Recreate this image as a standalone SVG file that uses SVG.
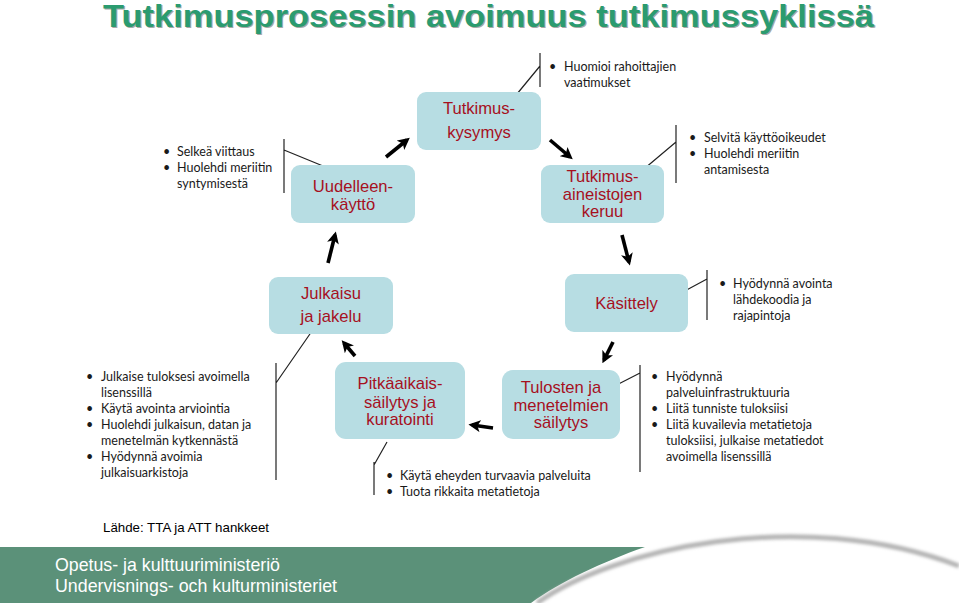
<svg xmlns="http://www.w3.org/2000/svg" width="959" height="603" viewBox="0 0 959 603">
<style>
.node rect{fill:#B7DDE3;}
.node text{font-family:"Liberation Sans",Arial,sans-serif;font-size:16.6px;fill:#A6101E;text-anchor:middle;}
.bl{font-family:Lato,"Open Sans",sans-serif;font-size:12.5px;fill:#1a1a1a;}
.br{stroke:#222;stroke-width:1.2;fill:none;}
.arr{stroke:#000;stroke-width:3.6;fill:none;stroke-linecap:butt;marker-end:url(#ah);}
.src{font-family:"Liberation Sans",Arial,sans-serif;font-size:13.3px;fill:#000;}
.foot{font-family:"Liberation Sans",Arial,sans-serif;font-size:18.5px;fill:#fff;}
</style>
<defs>
<marker id="ah" viewBox="0 0 10 10" refX="7" refY="5" markerWidth="12" markerHeight="12" markerUnits="userSpaceOnUse" orient="auto">
<path d="M0,0 L10,5 L0,10 L2.5,5 Z" fill="#000"/>
</marker>
<filter id="blur" x="-10%" y="-50%" width="120%" height="200%"><feGaussianBlur stdDeviation="1.6"/></filter>
</defs>
<rect width="959" height="603" fill="#fff"/>

<g id="title">
<text x="104.2" y="28.2" font-family="Liberation Sans,Arial,sans-serif" font-weight="bold" font-size="30.5" fill="#a8a8a8" textLength="771" lengthAdjust="spacingAndGlyphs">Tutkimusprosessin avoimuus tutkimussyklissä</text>
<text x="103" y="27" font-family="Liberation Sans,Arial,sans-serif" font-weight="bold" font-size="30.5" fill="#2B9B6F" textLength="771" lengthAdjust="spacingAndGlyphs">Tutkimusprosessin avoimuus tutkimussyklissä</text>
</g>

<g id="connectors">
<path class="arr" d="M386,157 L407,140"/>
<path class="arr" d="M550,140 L570,157"/>
<path class="arr" d="M622,235 L629,262"/>
<path class="arr" d="M613,342 L604,360"/>
<path class="arr" d="M493,428 L472,425"/>
<path class="arr" d="M355,356 L344,343"/>
<path class="arr" d="M328,263 L335,235"/>
<path class="br" d="M284,139 V193 M284,150 L323,166"/>
<path class="br" d="M540,53 V87 M540,66 L512,100"/>
<path class="br" d="M676,125 V183 M676,142 L638,174"/>
<path class="br" d="M707,270 V320 M707,279 L668,300"/>
<path class="br" d="M276,363 V480 M312,331 L276,383"/>
<path class="br" d="M640,365 V472 M640,373 L597,395"/>
<path class="br" d="M374,462 V495 M387,442 L374,465"/>
</g>

<g id="node-tutkimuskysymys" class="node">
<rect x="417" y="92" width="124" height="58" rx="9"/>
<text x="479" y="114">Tutkimus-</text>
<text x="479" y="138">kysymys</text>
</g>
<g id="node-uudelleenkaytto" class="node">
<rect x="291" y="165" width="124" height="58" rx="9"/>
<text x="353" y="192">Uudelleen-</text>
<text x="353" y="209.5">käyttö</text>
</g>
<g id="node-keruu" class="node">
<rect x="541" y="165" width="123" height="58" rx="9"/>
<text x="602.5" y="182">Tutkimus-</text>
<text x="602.5" y="199.5">aineistojen</text>
<text x="602.5" y="217">keruu</text>
</g>
<g id="node-julkaisu" class="node">
<rect x="269" y="277" width="124" height="57" rx="9"/>
<text x="331" y="299">Julkaisu</text>
<text x="331" y="322">ja jakelu</text>
</g>
<g id="node-kasittely" class="node">
<rect x="565" y="274" width="123" height="58" rx="9"/>
<text x="626.5" y="309">Käsittely</text>
</g>
<g id="node-pitkaaikais" class="node">
<rect x="335" y="362" width="130" height="77" rx="11"/>
<text x="400" y="389">Pitkäaikais-</text>
<text x="400" y="407.5">säilytys ja</text>
<text x="400" y="425">kuratointi</text>
</g>
<g id="node-tulosten" class="node">
<rect x="502" y="370" width="118" height="69" rx="11"/>
<text x="561" y="393">Tulosten ja</text>
<text x="561" y="410.5">menetelmien</text>
<text x="561" y="428">säilytys</text>
</g>

<g id="note-uudelleen" class="bl">
<text x="163" y="156">•</text><text x="177" y="156">Selkeä viittaus</text>
<text x="163" y="172">•</text><text x="177" y="172">Huolehdi meriitin</text>
<text x="177" y="188">syntymisestä</text>
</g>
<g id="note-tutkimuskysymys" class="bl">
<text x="549" y="71">•</text><text x="564" y="71">Huomioi rahoittajien</text>
<text x="564" y="87">vaatimukset</text>
</g>
<g id="note-keruu" class="bl">
<text x="689" y="142">•</text><text x="704" y="142">Selvitä käyttöoikeudet</text>
<text x="689" y="158">•</text><text x="704" y="158">Huolehdi meriitin</text>
<text x="704" y="174">antamisesta</text>
</g>
<g id="note-kasittely" class="bl">
<text x="719" y="288">•</text><text x="733" y="288">Hyödynnä avointa</text>
<text x="733" y="304">lähdekoodia ja</text>
<text x="733" y="320">rajapintoja</text>
</g>
<g id="note-julkaisu" class="bl">
<text x="86" y="381">•</text><text x="101" y="381">Julkaise tuloksesi avoimella</text>
<text x="101" y="397">lisenssillä</text>
<text x="86" y="413">•</text><text x="101" y="413">Käytä avointa arviointia</text>
<text x="86" y="429">•</text><text x="101" y="429">Huolehdi julkaisun, datan ja</text>
<text x="101" y="445">menetelmän kytkennästä</text>
<text x="86" y="461">•</text><text x="101" y="461">Hyödynnä avoimia</text>
<text x="101" y="477">julkaisuarkistoja</text>
</g>
<g id="note-tulosten" class="bl">
<text x="651" y="381">•</text><text x="666" y="381">Hyödynnä</text>
<text x="666" y="397">palveluinfrastruktuuria</text>
<text x="651" y="413">•</text><text x="666" y="413">Liitä tunniste tuloksiisi</text>
<text x="651" y="429">•</text><text x="666" y="429">Liitä kuvailevia metatietoja</text>
<text x="666" y="445">tuloksiisi, julkaise metatiedot</text>
<text x="666" y="461">avoimella lisenssillä</text>
</g>
<g id="note-pitkaaikais" class="bl">
<text x="386" y="480">•</text><text x="400" y="480">Käytä eheyden turvaavia palveluita</text>
<text x="386" y="496">•</text><text x="400" y="496">Tuota rikkaita metatietoja</text>
</g>

<text class="src" x="103" y="532">Lähde: TTA ja ATT hankkeet</text>

<g id="footer">
<path d="M0,547 H645 C602,562 560,582 531,603 H0 Z" fill="#5B9179"/>
<path d="M537,603 C610,550 800,505 959,566" stroke="#b5b5b5" stroke-width="5" fill="none" filter="url(#blur)"/>
<text class="foot" x="55" y="571" textLength="225" lengthAdjust="spacingAndGlyphs">Opetus- ja kulttuuriministeriö</text>
<text class="foot" x="55" y="592" textLength="282" lengthAdjust="spacingAndGlyphs">Undervisnings- och kulturministeriet</text>
</g>
</svg>
